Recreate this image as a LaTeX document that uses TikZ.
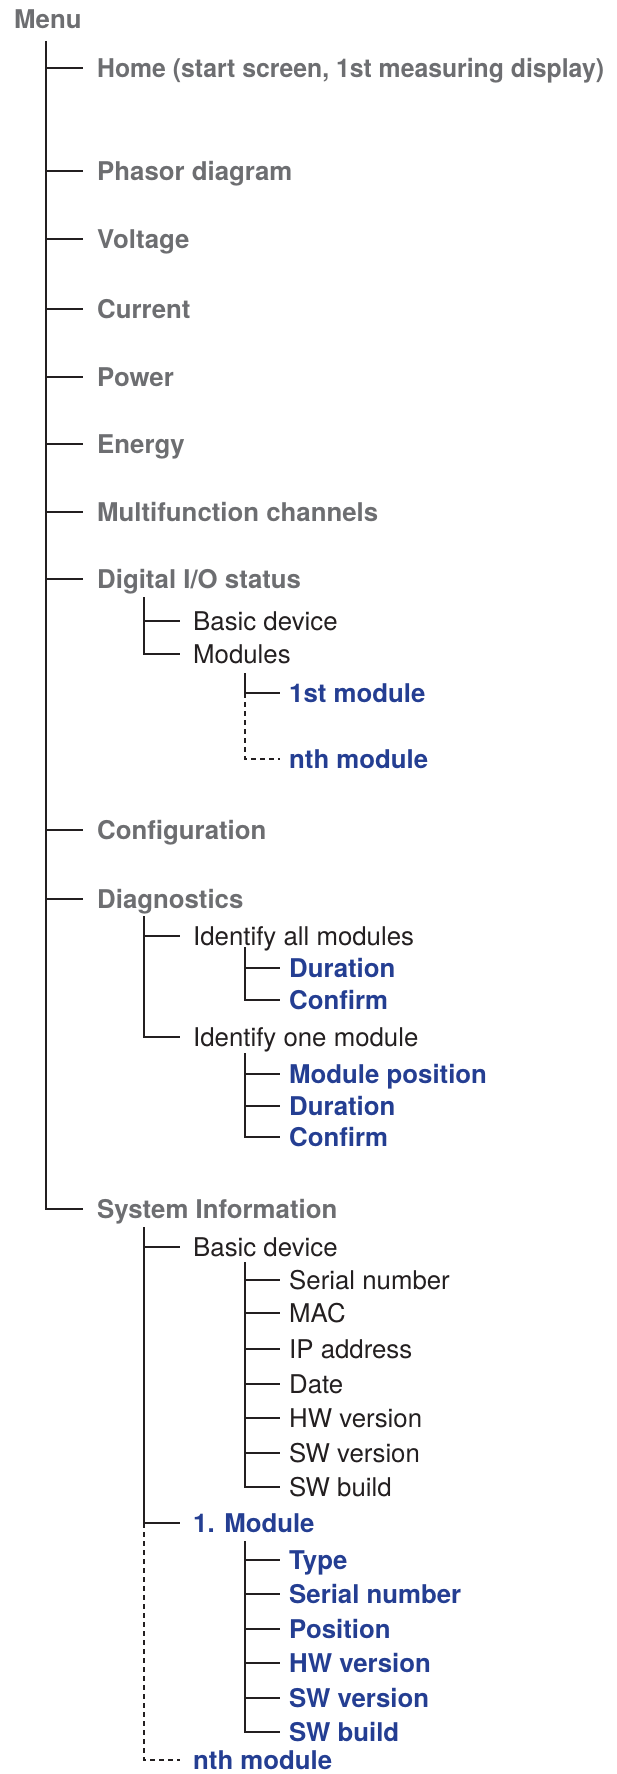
\documentclass[tikz,border=0pt]{standalone}
\usepackage{fontspec}
\setmainfont{TeX Gyre Heros}
\definecolor{menugrey}{RGB}{109,110,113}
\definecolor{modblue}{RGB}{36,62,146}
\definecolor{treeblack}{RGB}{35,31,32}

\begin{document}
\begin{tikzpicture}[x=1pt,y=-1pt,
	entry/.style={anchor=west,inner sep=0pt,text height=18.5pt,text depth=0pt,font=\fontsize{25.8}{30}\selectfont},
	topentry/.style={entry,text=menugrey,font=\fontsize{25.8}{30}\selectfont\bfseries},
	subentry/.style={entry,text=treeblack},
	modentry/.style={entry,text=modblue,font=\fontsize{25.8}{30}\selectfont\bfseries},
	branch/.style={draw=treeblack,line width=1.8pt},
	openbranch/.style={branch,dash pattern=on 4.5pt off 4.5pt}]
		%%%%% START %%%%%
		\useasboundingbox (0,0) rectangle (616,1774);
		
		% menu entries
		\node[topentry] (menu) at (14,19) {Menu};
		\node[topentry] (home) at (97,68) {\scalebox{0.96}[1]{Home (start screen, 1st measuring display)}};
		\node[topentry] (phasor) at (97,171) {Phasor diagram};
		\node[topentry] (voltage) at (97,239) {Voltage};
		\node[topentry] (current) at (97,309) {Current};
		\node[topentry] (power) at (97,377) {Power};
		\node[topentry] (energy) at (97,444) {Energy};
		\node[topentry] (multi) at (97,512) {Multifunction channels};
		\node[topentry] (digio) at (97,579) {Digital I/O status};
		\node[topentry] (config) at (97,830) {Configuration};
		\node[topentry] (diag) at (97,899) {Diagnostics};
		\node[topentry] (sysinfo) at (97,1209) {System Information};
		
		% digital I/O status
		\node[subentry] (iobasic) at (193,621) {Basic device};
		\node[subentry] (iomods) at (193,654) {Modules};
		\node[modentry] (iofirst) at (289,693) {1st module};
		\node[modentry] (ionth) at (289,759) {nth module};
		
		% diagnostics
		\node[subentry] (idall) at (193,936) {Identify all modules};
		\node[modentry] (allduration) at (289,968) {Duration};
		\node[modentry] (allconfirm) at (289,1000) {Confirm};
		\node[subentry] (idone) at (193,1037) {Identify one module};
		\node[modentry] (onepos) at (289,1074) {Module position};
		\node[modentry] (oneduration) at (289,1106) {Duration};
		\node[modentry] (oneconfirm) at (289,1137) {Confirm};
		
		% system information
		\node[subentry] (sibasic) at (193,1247) {Basic device};
		\node[subentry] (siserial) at (289,1280) {Serial number};
		\node[subentry] (simac) at (289,1313) {MAC};
		\node[subentry] (siip) at (289,1349) {IP address};
		\node[subentry] (sidate) at (289,1384) {Date};
		\node[subentry] (sihw) at (289,1418) {HW version};
		\node[subentry] (sisw) at (289,1453) {SW version};
		\node[subentry] (sibuild) at (289,1487) {SW build};
		\node[modentry] (simod) at (193,1523) {1. Module};
		\node[modentry] (mtype) at (289,1560) {Type};
		\node[modentry] (mserial) at (289,1594) {Serial number};
		\node[modentry] (mpos) at (289,1629) {Position};
		\node[modentry] (mhw) at (289,1663) {HW version};
		\node[modentry] (msw) at (289,1698) {SW version};
		\node[modentry] (mbuild) at (289,1732) {SW build};
		\node[modentry] (sinth) at (193,1760) {nth module};
		
		% main trunk
		\coordinate (trunkmenu) at (46,41);
		\draw[branch] (trunkmenu) |- ([xshift=-14pt]sysinfo.west);
		\draw[branch] (trunkmenu |- home.west) -- ([xshift=-14pt]home.west);
		\draw[branch] (trunkmenu |- phasor.west) -- ([xshift=-14pt]phasor.west);
		\draw[branch] (trunkmenu |- voltage.west) -- ([xshift=-14pt]voltage.west);
		\draw[branch] (trunkmenu |- current.west) -- ([xshift=-14pt]current.west);
		\draw[branch] (trunkmenu |- power.west) -- ([xshift=-14pt]power.west);
		\draw[branch] (trunkmenu |- energy.west) -- ([xshift=-14pt]energy.west);
		\draw[branch] (trunkmenu |- multi.west) -- ([xshift=-14pt]multi.west);
		\draw[branch] (trunkmenu |- digio.west) -- ([xshift=-14pt]digio.west);
		\draw[branch] (trunkmenu |- config.west) -- ([xshift=-14pt]config.west);
		\draw[branch] (trunkmenu |- diag.west) -- ([xshift=-14pt]diag.west);
		
		% digital I/O branches
		\coordinate (trunkio) at (144,597);
		\draw[branch] (trunkio) |- ([xshift=-13pt]iomods.west);
		\draw[branch] (trunkio |- iobasic.west) -- ([xshift=-13pt]iobasic.west);
		\coordinate (trunkmods) at (245,673);
		\draw[branch] (trunkmods) |- ([xshift=-9pt]iofirst.west);
		\draw[openbranch] (trunkmods |- iofirst.west) |- ([xshift=-9pt]ionth.west);
		
		% diagnostics branches
		\coordinate (trunkdiag) at (144,916);
		\draw[branch] (trunkdiag) |- ([xshift=-13pt]idone.west);
		\draw[branch] (trunkdiag |- idall.west) -- ([xshift=-13pt]idall.west);
		\coordinate (trunkall) at (245,947);
		\draw[branch] (trunkall) |- ([xshift=-9pt]allconfirm.west);
		\draw[branch] (trunkall |- allduration.west) -- ([xshift=-9pt]allduration.west);
		\coordinate (trunkone) at (245,1053);
		\draw[branch] (trunkone) |- ([xshift=-9pt]oneconfirm.west);
		\draw[branch] (trunkone |- onepos.west) -- ([xshift=-9pt]onepos.west);
		\draw[branch] (trunkone |- oneduration.west) -- ([xshift=-9pt]oneduration.west);
		
		% system information branches
		\coordinate (trunksys) at (144,1227);
		\draw[branch] (trunksys) |- ([xshift=-13pt]simod.west);
		\draw[branch] (trunksys |- sibasic.west) -- ([xshift=-13pt]sibasic.west);
		\draw[openbranch] (trunksys |- simod.west) |- ([xshift=-13pt]sinth.west);
		\coordinate (trunkbasic) at (245,1262);
		\draw[branch] (trunkbasic) |- ([xshift=-9pt]sibuild.west);
		\draw[branch] (trunkbasic |- siserial.west) -- ([xshift=-9pt]siserial.west);
		\draw[branch] (trunkbasic |- simac.west) -- ([xshift=-9pt]simac.west);
		\draw[branch] (trunkbasic |- siip.west) -- ([xshift=-9pt]siip.west);
		\draw[branch] (trunkbasic |- sidate.west) -- ([xshift=-9pt]sidate.west);
		\draw[branch] (trunkbasic |- sihw.west) -- ([xshift=-9pt]sihw.west);
		\draw[branch] (trunkbasic |- sisw.west) -- ([xshift=-9pt]sisw.west);
		\coordinate (trunkmod) at (245,1541);
		\draw[branch] (trunkmod) |- ([xshift=-9pt]mbuild.west);
		\draw[branch] (trunkmod |- mtype.west) -- ([xshift=-9pt]mtype.west);
		\draw[branch] (trunkmod |- mserial.west) -- ([xshift=-9pt]mserial.west);
		\draw[branch] (trunkmod |- mpos.west) -- ([xshift=-9pt]mpos.west);
		\draw[branch] (trunkmod |- mhw.west) -- ([xshift=-9pt]mhw.west);
		\draw[branch] (trunkmod |- msw.west) -- ([xshift=-9pt]msw.west);
		%%%%% END %%%%%
	\end{tikzpicture}
\end{document}
